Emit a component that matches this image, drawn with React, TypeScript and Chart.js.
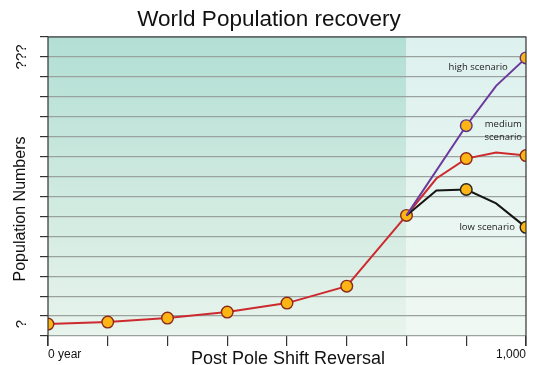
import React, { useEffect, useRef } from "react";
import { Chart, registerables } from "chart.js";

Chart.register(...registerables);

const steps = [0, 1, 2, 3, 4, 5, 6, 6.5, 7, 7.5, 8];
const baseValues = [0.6, 0.7, 0.9, 1.2, 1.65, 2.5, 6.05];
const mediumValues = [6.05, 7.9, 8.9, 9.2, 9.05];
const highValues = [6.05, 10.55, 12.55, 13.95];
const lowValues = [6.05, 7.3, 7.35, 6.65, 5.45];
const mediumSteps = [6, 6.5, 7, 7.5, 8];
const highSteps = [6, 7, 7.5, 8];
const lowSteps = [6, 6.5, 7, 7.5, 8];
const xTickLabels: Record<number, string> = { 0: "0 year", 8: "1,000" };
const yTickLabels = [
  { value: 14, text: "???" },
  { value: 0.6, text: "?" },
];
const notes = [
  { x: 7.2, y: 13.5, lines: ["high scenario"] },
  { x: 7.62, y: 10.3, lines: ["medium", "scenario"] },
  { x: 7.35, y: 5.45, lines: ["low scenario"] },
];
const shadeSplit = 6;

const FONT = "'Open Sans', 'DejaVu Sans', sans-serif";
const HFONT = "'Liberation Sans', Arial, sans-serif";
const ORANGE = "#fdb515";

const decorPlugin = {
  id: "decor",
  beforeDraw(chart: any) {
    const { ctx, chartArea: a, scales } = chart;
    const xs = scales.x.getPixelForValue(shadeSplit);
    ctx.save();
    let g = ctx.createLinearGradient(0, a.top, 0, a.bottom);
    g.addColorStop(0, "#b2dfd4");
    g.addColorStop(0.45, "#cbe8de");
    g.addColorStop(1, "#e8f4ec");
    ctx.fillStyle = g;
    ctx.fillRect(a.left, a.top, xs - a.left, a.bottom - a.top);
    g = ctx.createLinearGradient(0, a.top, 0, a.bottom);
    g.addColorStop(0, "#ddf1ee");
    g.addColorStop(1, "#f0f8f2");
    ctx.fillStyle = g;
    ctx.fillRect(xs, a.top, a.right - xs, a.bottom - a.top);
    ctx.restore();
  },
  afterDraw(chart: any) {
    const { ctx, chartArea: a, scales } = chart;
    ctx.save();
    ctx.strokeStyle = "#333";
    ctx.lineWidth = 1.2;
    ctx.beginPath();
    ctx.moveTo(a.left, a.bottom + 10);
    ctx.lineTo(a.left, a.top);
    ctx.lineTo(a.right, a.top);
    ctx.lineTo(a.right, a.bottom + 10);
    ctx.stroke();
    ctx.fillStyle = "#111";
    ctx.font = `22.5px ${HFONT}`;
    ctx.textAlign = "center";
    ctx.textBaseline = "middle";
    ctx.fillText("World Population recovery", 269, 20);
    ctx.font = `18px ${HFONT}`;
    ctx.fillText("Post Pole Shift Reversal", 288, 359);
    const drawRot = (text: string, x: number, y: number, size: number, font: string) => {
      ctx.save();
      ctx.translate(x, y);
      ctx.rotate(-Math.PI / 2);
      ctx.font = `${size}px ${font}`;
      ctx.textAlign = "center";
      ctx.textBaseline = "middle";
      ctx.fillText(text, 0, 0);
      ctx.restore();
    };
    drawRot("Population Numbers", 21, 209, 16, HFONT);
    yTickLabels.forEach((t) => drawRot(t.text, 22, scales.y.getPixelForValue(t.value), 15, HFONT));
    ctx.font = `9.5px ${FONT}`;
    ctx.fillStyle = "#222";
    notes.forEach((n) => {
      const px = scales.x.getPixelForValue(n.x);
      const py = scales.y.getPixelForValue(n.y);
      n.lines.forEach((l, i) => ctx.fillText(l, px, py + i * 13 - ((n.lines.length - 1) * 13) / 2));
    });
    ctx.restore();
  },
};

const pt = (xsArr: number[], ys: number[]) => xsArr.map((x, i) => ({ x, y: ys[i] }));
const radiusFor = (xsArr: number[], skip: number[]) => xsArr.map((x) => (skip.includes(x) || !Number.isInteger(x) ? 0 : 5.8));

export default function App() {
  const ref = useRef<HTMLCanvasElement>(null);
  useEffect(() => {
    document.body.style.margin = "0";
    const chart = new Chart(ref.current!, {
      type: "line",
      data: {
        datasets: [
          {
            data: pt(highSteps, highValues),
            borderColor: "#6b3a9c",
            borderWidth: 2,
            pointBackgroundColor: ORANGE,
            pointBorderColor: "#5a3585",
            pointBorderWidth: 1.4,
            pointRadius: radiusFor(highSteps, [6]),
          },
          {
            data: pt(lowSteps, lowValues),
            borderColor: "#151515",
            borderWidth: 2,
            pointBackgroundColor: ORANGE,
            pointBorderColor: "#222",
            pointBorderWidth: 1.4,
            pointRadius: radiusFor(lowSteps, [6]),
          },
          {
            data: pt(mediumSteps, mediumValues),
            borderColor: "#cc2a2e",
            borderWidth: 2,
            pointBackgroundColor: ORANGE,
            pointBorderColor: "#8a2a1c",
            pointBorderWidth: 1.4,
            pointRadius: radiusFor(mediumSteps, [6]),
          },
          {
            data: pt(steps.slice(0, baseValues.length), baseValues),
            borderColor: "#cc2a2e",
            borderWidth: 2,
            pointBackgroundColor: ORANGE,
            pointBorderColor: "#8a2a1c",
            pointBorderWidth: 1.4,
            pointRadius: 5.8,
          },
        ],
      },
      options: {
        animation: false,
        responsive: false,
        maintainAspectRatio: false,
        layout: { padding: { top: 37, right: 15, left: 0, bottom: 0 } },
        plugins: { legend: { display: false }, tooltip: { enabled: false }, title: { display: false } },
        scales: {
          x: {
            type: "linear",
            min: 0,
            max: 8,
            afterFit: (s: any) => {
              s.height = 29;
            },
            border: { display: false },
            grid: { drawOnChartArea: false, drawTicks: true, tickLength: 10, color: "#333", lineWidth: 1.2 },
            ticks: {
              stepSize: 1,
              align: "inner",
              padding: 1,
              color: "#111",
              font: { family: HFONT, size: 12 },
              maxRotation: 0,
              callback: (v: any) => xTickLabels[v] ?? "",
            },
          },
          y: {
            min: 0,
            max: 15,
            afterFit: (s: any) => {
              s.width = 48;
            },
            border: { display: false },
            grid: { color: "#9aa29f", lineWidth: 1.2, tickLength: 8, tickColor: "#333" },
            ticks: { stepSize: 1, display: false },
          },
        },
      },
      plugins: [decorPlugin],
    } as any);
    return () => chart.destroy();
  }, []);
  return (
    <div style={{ position: "absolute", left: 0, top: 0, width: 541, height: 365, background: "#fff" }}>
      <canvas ref={ref} width={541} height={365} style={{ width: 541, height: 365 }} />
    </div>
  );
}
